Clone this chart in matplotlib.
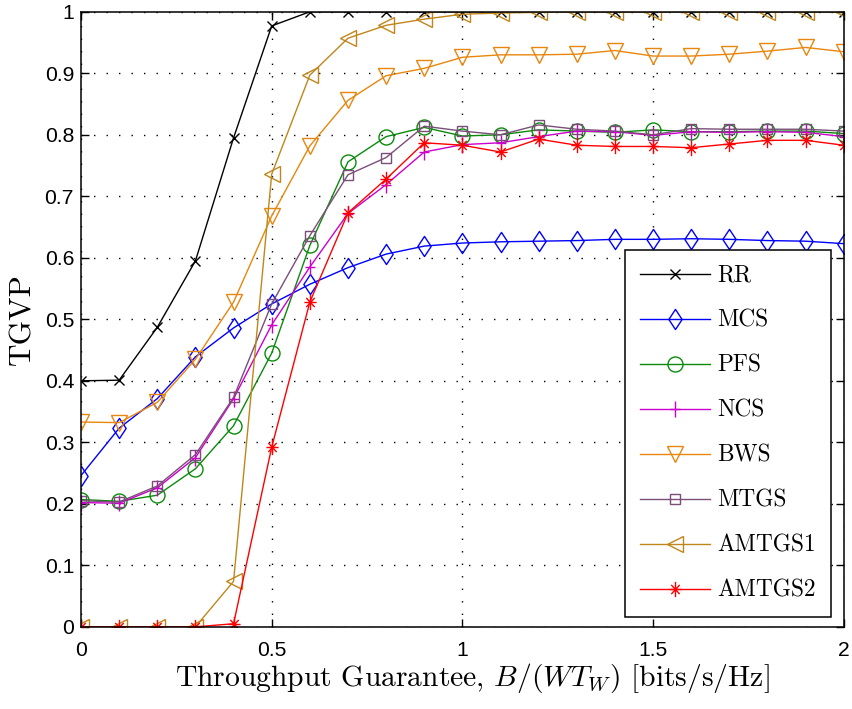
import numpy as np
import matplotlib
matplotlib.use("Agg")
import matplotlib.pyplot as plt
from matplotlib.path import Path

plt.rcParams['mathtext.fontset'] = 'cm'
plt.rcParams['axes.unicode_minus'] = False

# Throughput guarantee grid, B/(W T_W)
x = np.round(np.arange(0, 2.01, 0.1), 2)

rr = [0.400, 0.401, 0.487, 0.595, 0.795, 0.977, 1.0, 1.0, 1.0, 1.0, 1.0,
      1.0, 1.0, 1.0, 1.0, 1.0, 1.0, 1.0, 1.0, 1.0, 1.0]
mcs = [0.246, 0.323, 0.371, 0.439, 0.486, 0.525, 0.557, 0.584, 0.606, 0.619, 0.624,
       0.626, 0.627, 0.628, 0.630, 0.630, 0.631, 0.630, 0.628, 0.627, 0.623]
pfs = [0.207, 0.204, 0.214, 0.257, 0.327, 0.445, 0.620, 0.756, 0.797, 0.812, 0.798,
       0.800, 0.808, 0.806, 0.804, 0.808, 0.805, 0.805, 0.806, 0.806, 0.802]
ncs = [0.202, 0.201, 0.226, 0.275, 0.371, 0.491, 0.585, 0.672, 0.719, 0.772, 0.784,
       0.787, 0.797, 0.806, 0.805, 0.799, 0.805, 0.804, 0.805, 0.804, 0.797]
bws = [0.333, 0.332, 0.365, 0.435, 0.528, 0.668, 0.782, 0.856, 0.896, 0.908, 0.926,
       0.930, 0.930, 0.931, 0.937, 0.928, 0.928, 0.931, 0.936, 0.942, 0.935]
mtgs = [0.205, 0.203, 0.229, 0.280, 0.373, 0.525, 0.636, 0.735, 0.763, 0.814, 0.806,
        0.800, 0.816, 0.809, 0.806, 0.800, 0.810, 0.809, 0.809, 0.809, 0.806]
amtgs1 = [0.0, 0.0, 0.0, 0.0, 0.074, 0.736, 0.897, 0.957, 0.978, 0.988, 0.996,
          0.998, 0.999, 1.0, 1.0, 1.0, 1.0, 1.0, 1.0, 1.0, 1.0]
amtgs2 = [0.0, 0.0, 0.0, 0.0, 0.005, 0.292, 0.528, 0.673, 0.728, 0.787, 0.783,
          0.772, 0.793, 0.783, 0.781, 0.781, 0.779, 0.785, 0.791, 0.791, 0.783]

names = ['RR', 'MCS', 'PFS', 'NCS', 'BWS', 'MTGS', 'AMTGS1', 'AMTGS2']
series = [rr, mcs, pfs, ncs, bws, mtgs, amtgs1, amtgs2]

xticks = [0, 0.5, 1, 1.5, 2]
xticklabels = ['0', '0.5', '1', '1.5', '2']
yticks = np.round(np.arange(0, 1.01, 0.1), 1)
yticklabels = ['0', '0.1', '0.2', '0.3', '0.4', '0.5', '0.6', '0.7', '0.8', '0.9', '1']

# narrow diamond, taller than wide
diamond = Path([(0, 1), (0.66, 0), (0, -1), (-0.66, 0), (0, 1)],
               [Path.MOVETO, Path.LINETO, Path.LINETO, Path.LINETO, Path.CLOSEPOLY])
# taller plus sign
plus = Path([(0, 1), (0, -1), (-0.62, 0), (0.62, 0)],
            [Path.MOVETO, Path.LINETO, Path.MOVETO, Path.LINETO])
# asterisk: plus combined with a cross
asterisk = Path([(0, 1), (0, -1), (-0.8, 0), (0.8, 0),
                 (-0.55, 0.6), (0.55, -0.6), (-0.55, -0.6), (0.55, 0.6)],
                [Path.MOVETO, Path.LINETO, Path.MOVETO, Path.LINETO,
                 Path.MOVETO, Path.LINETO, Path.MOVETO, Path.LINETO])

styles = [
    dict(color='#000000', marker='x', ms=7.5),
    dict(color='#0000ff', marker=diamond, ms=14.5),
    dict(color='#0a8a0a', marker='o', ms=10.8),
    dict(color='#cc00cc', marker=plus, ms=12),
    dict(color='#e8860e', marker='v', ms=12),
    dict(color='#7a4e78', marker='s', ms=7.8),
    dict(color='#c0861a', marker='<', ms=12),
    dict(color='#ff0000', marker=asterisk, ms=11),
]

fig = plt.figure(figsize=(8.52, 7.09), dpi=100)
ax = fig.add_axes([0.0951, 0.1159, 0.8952, 0.8675])

for name, ys, st in zip(names, series, styles):
    ax.plot(x, ys, color=st['color'], marker=st['marker'], markersize=st['ms'],
            markerfacecolor='none', markeredgecolor=st['color'], markeredgewidth=1.0,
            linewidth=1.0, label=name)

ax.set_xlim(0, 2)
ax.set_ylim(0, 1)
ax.set_xticks(xticks)
ax.set_xticklabels(xticklabels)
ax.set_yticks(yticks)
ax.set_yticklabels(yticklabels)

for lab in ax.get_xticklabels() + ax.get_yticklabels():
    lab.set_fontfamily('Liberation Sans')
    lab.set_fontsize(15.2)

ax.tick_params(direction='in', length=5.5, width=1.0, top=True, right=True)
ax.tick_params(axis='x', pad=10)
ax.tick_params(axis='y', pad=5)

ax.grid(True, color='black', linestyle=(0, (1, 8)), linewidth=1.0)
ax.set_axisbelow(True)
for sp in ax.spines.values():
    sp.set_linewidth(1.1)

ax.set_xlabel(r'Throughput Guarantee, $B/(WT_W)$ [bits/s/Hz]',
              family='cmr10', fontsize=21.3, labelpad=3)
ax.xaxis.set_label_coords(0.513, -0.055)
ax.xaxis.label.set_verticalalignment('top')
ax.set_ylabel('TGVP', family='cmr10', fontsize=22.5, labelpad=6)

leg = ax.legend(loc='lower right', bbox_to_anchor=(0.983, 0.016), borderaxespad=0,
                prop=dict(family='cmr10', size=16.8), numpoints=1,
                handlelength=3.0, handletextpad=0.3, labelspacing=0.98,
                borderpad=0.65, fancybox=False, framealpha=1, edgecolor='black')
leg.get_frame().set_linewidth(1.1)

fig.savefig('out.png', dpi=100)
